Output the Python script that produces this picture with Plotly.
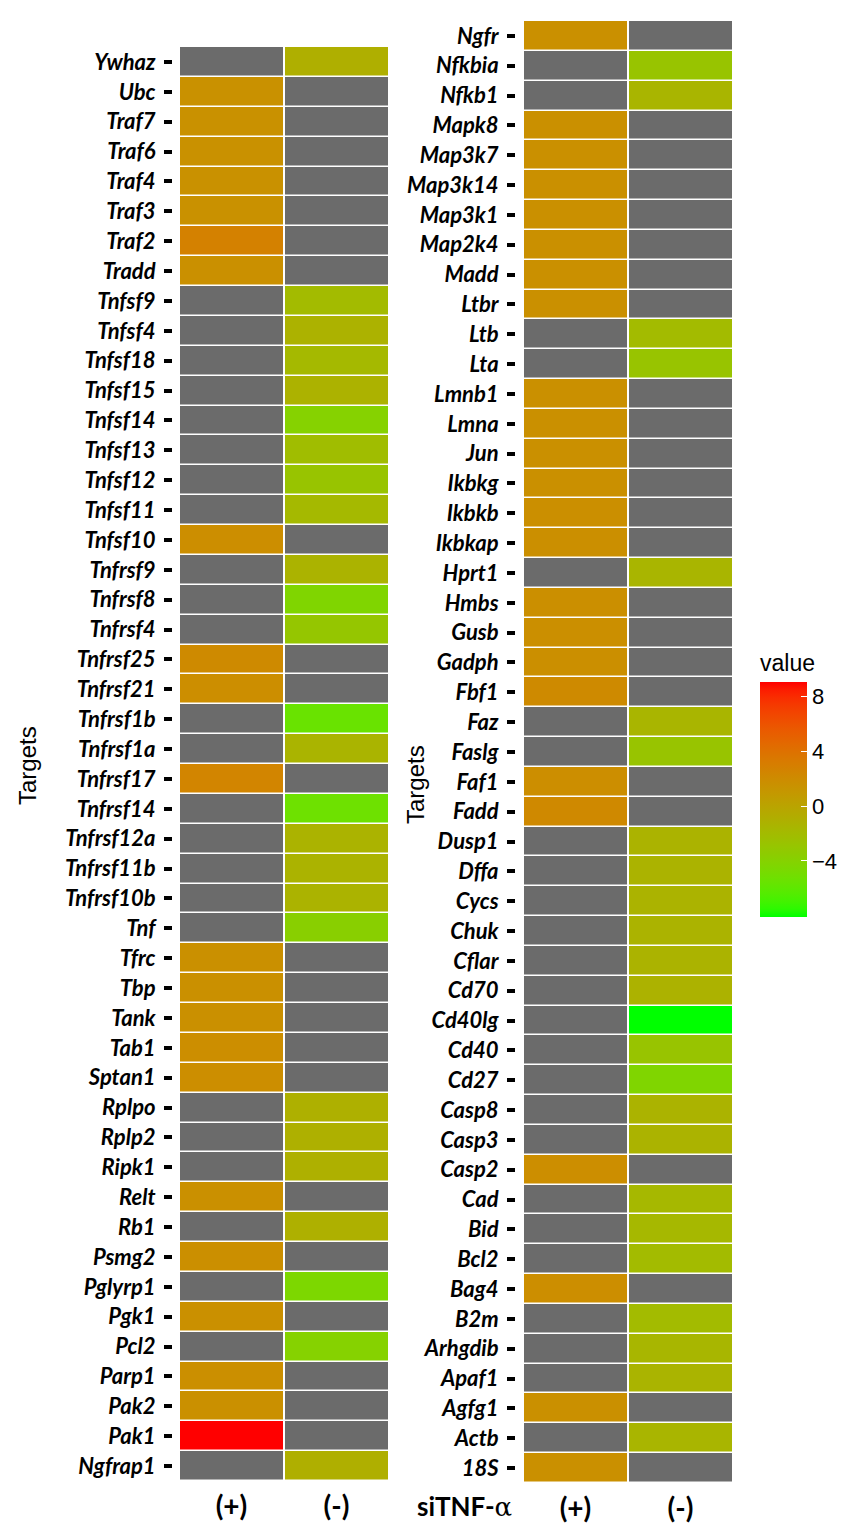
import math
import plotly.graph_objects as go

# ---------------- data ----------------
conditions = ["(+)", "(-)"]

left_genes = ["Ywhaz", "Ubc", "Traf7", "Traf6", "Traf4", "Traf3", "Traf2", "Tradd",
              "Tnfsf9", "Tnfsf4", "Tnfsf18", "Tnfsf15", "Tnfsf14", "Tnfsf13", "Tnfsf12",
              "Tnfsf11", "Tnfsf10", "Tnfrsf9", "Tnfrsf8", "Tnfrsf4", "Tnfrsf25", "Tnfrsf21",
              "Tnfrsf1b", "Tnfrsf1a", "Tnfrsf17", "Tnfrsf14", "Tnfrsf12a", "Tnfrsf11b",
              "Tnfrsf10b", "Tnf", "Tfrc", "Tbp", "Tank", "Tab1", "Sptan1", "Rplpo", "Rplp2",
              "Ripk1", "Relt", "Rb1", "Psmg2", "Pglyrp1", "Pgk1", "Pcl2", "Parp1", "Pak2",
              "Pak1", "Ngfrap1"]
left_plus = [None, 1.5, 1.5, 1.5, 1.5, 1.5, 2.8, 1.6,
             None, None, None, None, None, None, None,
             None, 1.8, None, None, None, 2.1, 1.8,
             None, None, 2.5, None, None, None,
             None, None, 1.6, 1.6, 1.6, 1.8, 1.8, None, None,
             None, 1.6, None, 1.7, None, 1.6, None, 1.7, 1.6,
             9.05, None]
left_minus = [-1.0, None, None, None, None, None, None, None,
              -2.0, -1.2, -1.8, -1.2, -4.0, -2.2, -2.8,
              -1.8, None, -1.3, -4.3, -3.0, None, None,
              -5.5, -1.4, None, -5.3, -1.3, -1.3,
              -1.3, -3.8, None, None, None, None, None, -1.1, -1.1,
              -1.1, None, -1.1, None, -4.5, None, -4.0, None, None,
              None, -1.0]

right_genes = ["Ngfr", "Nfkbia", "Nfkb1", "Mapk8", "Map3k7", "Map3k14", "Map3k1", "Map2k4",
               "Madd", "Ltbr", "Ltb", "Lta", "Lmnb1", "Lmna", "Jun", "Ikbkg", "Ikbkb",
               "Ikbkap", "Hprt1", "Hmbs", "Gusb", "Gadph", "Fbf1", "Faz", "Faslg", "Faf1",
               "Fadd", "Dusp1", "Dffa", "Cycs", "Chuk", "Cflar", "Cd70", "Cd40lg", "Cd40",
               "Cd27", "Casp8", "Casp3", "Casp2", "Cad", "Bid", "Bcl2", "Bag4", "B2m",
               "Arhgdib", "Apaf1", "Agfg1", "Actb", "18S"]
right_plus = [1.6, None, None, 1.6, 1.6, 1.6, 1.6, 1.6,
              1.6, 1.6, None, None, 1.6, 1.6, 1.6, 1.6, 1.7,
              1.7, None, 1.7, 1.7, 1.7, 2.1, None, None, 1.8,
              2.2, None, None, None, None, None, None, None, None,
              None, None, None, 1.8, None, None, None, 1.8, None,
              None, None, 1.6, None, 1.6]
right_minus = [None, -2.8, -1.5, None, None, None, None, None,
               None, None, -2.0, -2.8, None, None, None, None, None,
               None, -1.5, None, None, None, None, -1.5, -2.8, None,
               None, -1.3, -1.3, -1.3, -1.3, -1.3, -1.2, -8.1, -2.8,
               -4.3, -1.3, -1.3, None, -1.7, -1.7, -2.0, None, -2.0,
               -1.6, -1.4, None, -1.5, None]

colorbar_ticks = [-4, 0, 4, 8]
na_color = "#6b6b6b"

# ------------- Lab-space gradient (green -> red) -------------
def srgb_to_lab(hexc):
    r, g, b = [int(hexc[i:i + 2], 16) / 255 for i in (1, 3, 5)]
    def lin(c):
        return c / 12.92 if c <= 0.04045 else ((c + 0.055) / 1.055) ** 2.4
    r, g, b = lin(r), lin(g), lin(b)
    X = (0.4124 * r + 0.3576 * g + 0.1805 * b) / 0.95047
    Y = (0.2126 * r + 0.7152 * g + 0.0722 * b) / 1.0
    Z = (0.0193 * r + 0.1192 * g + 0.9505 * b) / 1.08883
    def f(t):
        return t ** (1 / 3) if t > 0.008856 else 7.787 * t + 16 / 116
    fx, fy, fz = f(X), f(Y), f(Z)
    return 116 * fy - 16, 500 * (fx - fy), 200 * (fy - fz)

def lab_to_srgb(L, a, b, gamma=1.2):
    fy = (L + 16) / 116
    fx = fy + a / 500
    fz = fy - b / 200
    def finv(t):
        return t ** 3 if t ** 3 > 0.008856 else (t - 16 / 116) / 7.787
    X, Y, Z = finv(fx) * 0.95047, finv(fy), finv(fz) * 1.08883
    r = 3.2406 * X - 1.5372 * Y - 0.4986 * Z
    g = -0.9689 * X + 1.8758 * Y + 0.0415 * Z
    bb = 0.0557 * X - 0.2040 * Y + 1.0570 * Z
    def gam(c):
        c = max(0.0, min(1.0, c))
        c = c * 12.92 if c <= 0.0031308 else 1.055 * c ** (1 / 2.4) - 0.055
        c = max(0.0, min(1.0, c)) ** gamma
        return round(c * 255)
    return "rgb(%d,%d,%d)" % (gam(r), gam(g), gam(bb))

lo, hi = srgb_to_lab("#00ff00"), srgb_to_lab("#ff0000")
N = 30
colorscale = []
for i in range(N + 1):
    t = i / N
    colorscale.append([t, lab_to_srgb(*[lo[k] + (hi[k] - lo[k]) * t for k in range(3)])])

all_vals = [v for v in left_plus + left_minus + right_plus + right_minus if v is not None]
vmin, vmax = min(all_vals), max(all_vals)

def zmat(p, m):
    return [[a, b] for a, b in zip(p, m)]

def namat(p, m):
    return [[1 if a is None else None, 1 if b is None else None] for a, b in zip(p, m)]

fig = go.Figure()
for genes, p, m, xa, ya in [(left_genes, left_plus, left_minus, "x", "y"),
                            (right_genes, right_plus, right_minus, "x2", "y2")]:
    fig.add_trace(go.Heatmap(x=conditions, y=genes, z=namat(p, m),
                             colorscale=[[0, na_color], [1, na_color]], showscale=False,
                             xgap=2, ygap=1.5, xaxis=xa, yaxis=ya, hoverinfo="skip"))
    fig.add_trace(go.Heatmap(x=conditions, y=genes, z=zmat(p, m), coloraxis="coloraxis",
                             xgap=2, ygap=1.5, xaxis=xa, yaxis=ya))

W, H = 845, 1524
tickfont = dict(family="Lato", size=22, color="black", weight="bold", style="italic")
xtickfont = dict(family="Lato", size=28, color="black", weight="bold")

def yax(domain, pos):
    return dict(domain=domain, anchor="free", position=pos, autorange="reversed",
                ticks="outside", ticklen=8, tickwidth=3.5, tickcolor="black",
                tickfont=tickfont, showgrid=False, zeroline=False, showline=False,
                ticklabelstandoff=4, automargin=False)

def xax(domain, anchor):
    return dict(domain=domain, anchor=anchor, ticks="", tickfont=xtickfont,
                showgrid=False, zeroline=False, showline=False,
                ticklabelstandoff=6, automargin=False)

fig.update_layout(
    width=W, height=H,
    margin=dict(l=0, r=0, t=0, b=0),
    paper_bgcolor="white", plot_bgcolor="white",
    xaxis=xax([179 / W, 389 / W], "y"),
    yaxis=yax([1 - 1481 / H, 1 - 47 / H], 172 / W),
    xaxis2=xax([523 / W, 733 / W], "y2"),
    yaxis2=yax([1 - 1483 / H, 1 - 21 / H], 515 / W),
    coloraxis=dict(
        colorscale=colorscale, cmin=vmin, cmax=vmax,
        colorbar=dict(
            title=dict(text="value", side="top",
                       font=dict(family="Liberation Sans", size=23, color="black")),
            x=760 / W, xanchor="left", y=1 - 917 / H, yanchor="bottom",
            lenmode="pixels", len=266, thickness=47,
            tickvals=colorbar_ticks, ticks="inside", ticklen=6, tickcolor="white",
            tickfont=dict(family="Liberation Sans", size=22, color="black"),
            outlinewidth=0, xpad=0, ypad=0,
        ),
    ),
    showlegend=False,
)

fig.add_annotation(text="Targets", x=28 / W, y=1 - 766 / H, xref="paper", yref="paper",
                   xanchor="center", yanchor="middle",
                   textangle=-90, showarrow=False,
                   font=dict(family="Liberation Sans", size=24, color="black"))
fig.add_annotation(text="Targets", x=415 / W, y=1 - 785 / H, xref="paper", yref="paper",
                   xanchor="center", yanchor="middle",
                   textangle=-90, showarrow=False,
                   font=dict(family="Liberation Sans", size=24, color="black"))
fig.add_annotation(text="<b>siTNF-</b><span style='font-family:DejaVu Serif'>α</span>",
                   x=514 / W, y=0, xref="paper", yref="paper",
                   xanchor="right", yanchor="bottom", showarrow=False,
                   font=dict(family="Lato", size=26, color="black"))

fig.write_html("out.html", config={"displayModeBar": False},
               post_script="document.body.style.margin='0px';document.body.style.overflow='hidden';")
